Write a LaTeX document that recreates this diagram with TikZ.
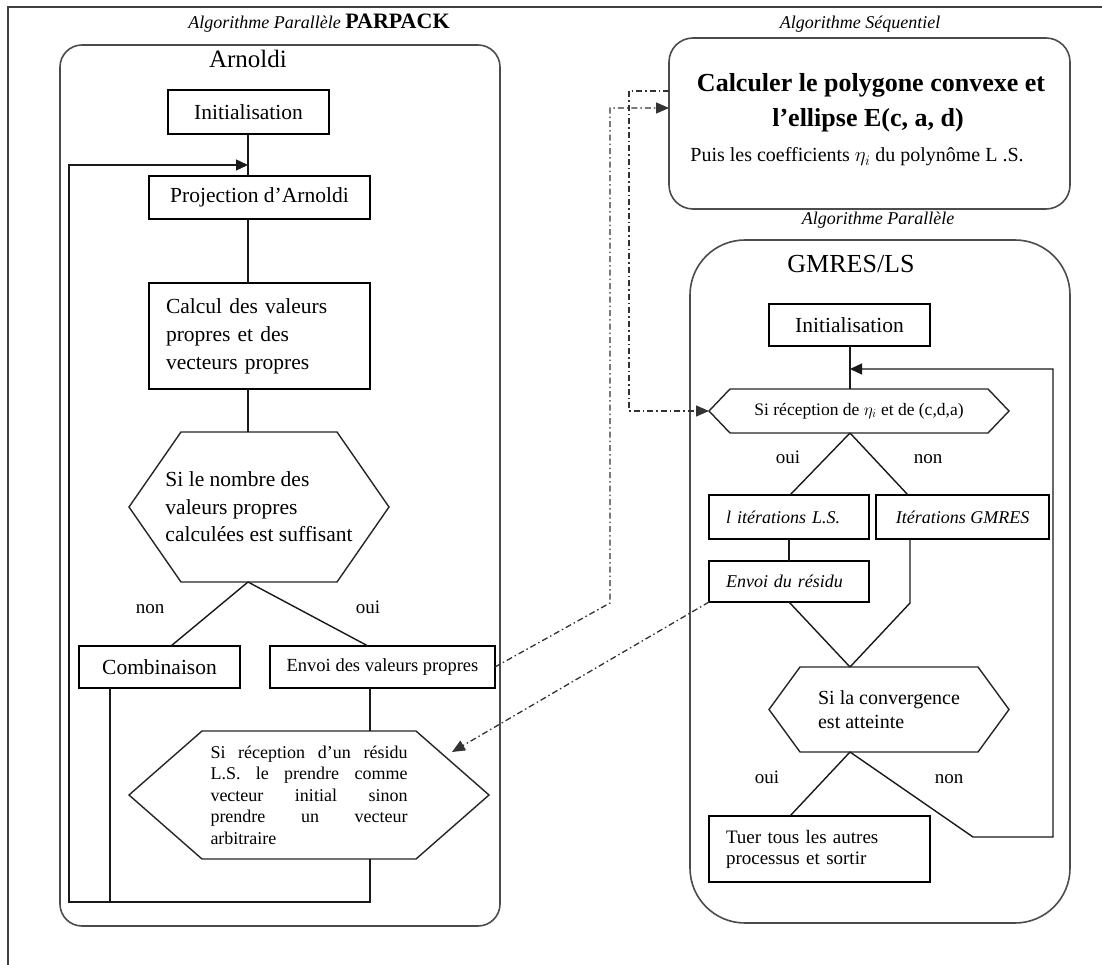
\documentclass[tikz,border=0pt]{standalone}
\usepackage{fontspec}
\setmainfont{Liberation Serif}
\usetikzlibrary{arrows.meta,calc}

\newcommand\fsz[2]{\fontsize{#1}{#2}\selectfont}
% hexagonal decision outline drawn round a named node (#2 = horizontal inset of the top and bottom edges)
\newcommand\hexdraw[2]{%
  \draw[hexline] ($(#1.north west)+(#2,0)$) -- ($(#1.north east)+(-#2,0)$) -- (#1.east)
    -- ($(#1.south east)+(-#2,0)$) -- ($(#1.south west)+(#2,0)$) -- (#1.west) -- cycle;}

\tikzset{
  every node/.style={inner sep=0pt, outer sep=0pt},
  procbox/.style={draw=black, line width=1.4pt, font=\fsz{21.5}{28}},
  hexnode/.style={font=\fsz{21.5}{27.5}},
  hexline/.style={draw=black!85, line width=1.4pt, line join=miter},
  container/.style={draw=black!70, line width=1.6pt},
  wire/.style={draw=black!90, line width=1.4pt},
  loopwire/.style={wire, -{Triangle[length=12pt,width=11pt]}},
  msg/.style={draw=black!80, line width=1.3pt, dash pattern=on 6pt off 3pt on 1.5pt off 3pt},
  msgarrow/.style={msg, -{Triangle[length=13pt,width=11pt]}},
  lbl/.style={font=\fsz{19}{22}, anchor=base},
  algtitle/.style={font=\itshape\fsz{18}{22}, anchor=base},
}

\begin{document}
\begin{tikzpicture}[x=1pt,y=-1pt]
\useasboundingbox (0,0) rectangle (1102,965);
\fill[white] (0,0) rectangle (1102,965);

% page frame (top and left edges)
\draw[draw=black!75, line width=2pt] (8,965) -- (8,7) -- (1102,7);

% ---------------- PARPACK / Arnoldi ----------------
\node[algtitle] (parT) at (319,29) {Algorithme Parallèle {\upshape\bfseries\fsz{22}{26}PARPACK}};
\node[container, rounded corners=22pt, minimum width=440pt, minimum height=881pt] (arnoldi) at (280,485.5) {};
\node[anchor=base, font=\fsz{25}{30}] (arnoldiT) at (248,68) {Arnoldi};

\node[procbox, minimum width=161pt, minimum height=44pt] (init1) at (248.5,112) {Initialisation};
\node[procbox, minimum width=221pt, minimum height=43pt] (proj) at (259.5,197.5) {Projection d’Arnoldi};
\node[procbox, minimum width=221pt, minimum height=106pt, text width=187pt, align=left] (calc) at (259.5,336)
  {Calcul des valeurs\\ propres et des\\ vecteurs propres};
\node[hexnode, minimum width=260pt, minimum height=150pt, align=left] (hex1) at (259,507)
  {Si le nombre des\\ valeurs propres\\ calculées est suffisant};
\hexdraw{hex1}{52}
\node[lbl] (nonL) at (150,613) {non};
\node[lbl] (ouiL) at (368,613) {oui};
\node[procbox, minimum width=161pt, minimum height=42pt] (comb) at (159.5,667) {Combinaison};
\node[procbox, minimum width=225pt, minimum height=42pt, font=\fsz{18.5}{22}] (envoi1) at (382.5,667) {Envoi des valeurs propres};
\node[hexnode, minimum width=360pt, minimum height=128pt, text width=197pt, align=justify, font=\fsz{18}{21.5}] (hex2) at (309,795)
  {\noindent Si réception d’un résidu\linebreak L.S. le prendre comme\linebreak vecteur initial sinon\linebreak prendre un vecteur\linebreak arbitraire};
\hexdraw{hex2}{73}

% trunk and loop of the Arnoldi process
\coordinate (tA) at (248,0);
\coordinate (sp2) at (370,0);
\coordinate (cbx) at (110,0);
\coordinate (lpB) at (69,902);
\coordinate (lpT) at (69,165);
\draw[wire] (init1.south -| tA) -- (proj.north -| tA);
\draw[wire] (proj.south -| tA) -- (calc.north -| tA);
\draw[wire] (calc.south -| tA) -- (hex1.north -| tA);
\draw[wire] (hex1.south -| tA) -- ($(comb.north)+(11.5,0)$);
\draw[wire] (hex1.south -| tA) -- ($(envoi1.north)+(-14.5,0)$);
\draw[wire] (envoi1.south -| sp2) -- (hex2.north -| sp2);
\draw[loopwire] (hex2.south -| sp2) -- (sp2 |- lpB) -- (lpB) -- (lpT) -- (lpT -| tA);
\draw[wire] (comb.south -| cbx) -- (cbx |- lpB);

% ---------------- Sequential part ----------------
\node[algtitle] (seqT) at (860,29) {Algorithme Séquentiel};
\node[container, rounded corners=24pt, minimum width=401pt, minimum height=171pt] (seq) at (869.5,123.5) {};
\node[anchor=base, font=\bfseries\fsz{26}{30}] (seqA) at (871,92) {Calculer le polygone convexe et};
\node[anchor=base, font=\bfseries\fsz{26}{30}] (seqB) at (868,127) {l’ellipse E(c, a, d)};
\node[anchor=base, font=\fsz{20}{24}] (seqC) at (857,162) {Puis les coefficients $\eta_i$ du polynôme L .S.};

% ---------------- GMRES/LS ----------------
\node[algtitle] (parT2) at (878,225) {Algorithme Parallèle};
\node[container, rounded corners=55pt, minimum width=380pt, minimum height=683pt] (gmres) at (880,581.5) {};
\node[anchor=base, font=\fsz{26}{30}] (gmresT) at (851,273) {GMRES/LS};

\node[procbox, minimum width=161pt, minimum height=42pt] (init2) at (849.5,325) {Initialisation};
\node[minimum width=300pt, minimum height=44pt, font=\fsz{17.5}{21}] (hex3) at (859,411) {Si réception de $\eta_i$ et de (c,d,a)};
\hexdraw{hex3}{21}
\node[lbl] (ouiR1) at (788,463) {oui};
\node[lbl] (nonR1) at (928,463) {non};
\node[procbox, minimum width=160pt, minimum height=44pt, text width=126pt, align=left, font=\itshape\fsz{18}{22}] (lsit) at (789,517) {l itérations L.S.};
\node[procbox, minimum width=173pt, minimum height=44pt, font=\itshape\fsz{18}{22}] (gmit) at (962.5,517) {Itérations GMRES};
\node[procbox, minimum width=160pt, minimum height=41pt, text width=126pt, align=left, font=\itshape\fsz{18}{22}] (envres) at (789,581.5) {Envoi du résidu};
\node[minimum width=240pt, minimum height=85pt, align=left, font=\fsz{20}{24}] (hex4) at (889,709.5) {Si la convergence\\ est atteinte};
\hexdraw{hex4}{31}
\node[lbl] (ouiR2) at (767,783) {oui};
\node[lbl] (nonR2) at (949,783) {non};
\node[procbox, minimum width=221pt, minimum height=66pt, text width=187pt, align=left, font=\fsz{19}{21}] (tuer) at (819.5,849)
  {Tuer tous les autres\\ processus et sortir};

\coordinate (tB) at (850,0);
\coordinate (gmx) at (910,603);
\coordinate (rl1) at (973,837);
\coordinate (rl2) at (1053,837);
\coordinate (rl3) at (1053,369);
\draw[wire] (init2.south -| tB) -- (hex3.north -| tB);
\draw[wire] (hex3.south -| tB) -- ($(lsit.north)+(1,0)$);
\draw[wire] (hex3.south -| tB) -- ($(gmit.north)+(-54.5,0)$);
\draw[wire] (lsit.south) -- (envres.north);
\draw[wire] (envres.south) -- (hex4.north -| tB);
\draw[wire] (gmit.south -| gmx) -- (gmx) -- (hex4.north -| tB);
\draw[wire] (hex4.south -| tB) -- ($(tuer.north)+(-29.5,0)$);
\draw[loopwire] (hex4.south -| tB) -- (rl1) -- (rl2) -- (rl3) -- (rl3 -| tB);

% ---------------- messages between processes ----------------
\coordinate (mA1) at (610,603);
\coordinate (mA2) at (610,108);
\coordinate (mB) at (629,91);
\coordinate (mC) at (452,752);
\draw[msgarrow] (envoi1.east) -- (mA1) -- (mA2) -- (mA2 -| seq.west);
\draw[msgarrow] (mB -| seq.west) -- (mB) -- (mB |- hex3.west) -- (hex3.west);
\draw[msgarrow] (envres.south west) -- (mC);
\end{tikzpicture}
\end{document}
